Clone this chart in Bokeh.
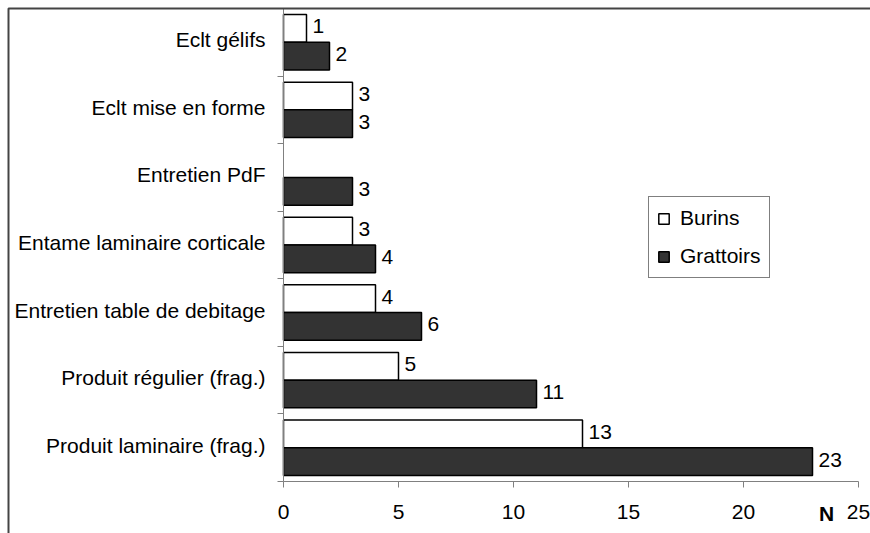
from bokeh.plotting import figure
from bokeh.models import (ColumnDataSource, FixedTicker, Range1d, Legend, LegendItem,
                          Label, BoxAnnotation)
from bokeh.embed import file_html
from bokeh.resources import INLINE
from bokeh.core.properties import value

categories = ["Eclt gélifs", "Eclt mise en forme", "Entretien PdF",
              "Entame laminaire corticale", "Entretien table de debitage",
              "Produit régulier (frag.)", "Produit laminaire (frag.)"]
burins = [1, 3, None, 3, 4, 5, 13]
grattoirs = [2, 3, 3, 4, 6, 11, 23]
x_ticks = [0, 5, 10, 15, 20, 25]
x_max = 25
series_names = ["Burins", "Grattoirs"]
axis_title = "N"

FONT = "Liberation Sans"
FS = "21px"
W, H = 870, 533
n = len(categories)
centers = [i + 0.5 for i in range(n)]
bounds = list(range(n + 1))
bar_h = 0.41
off = 0.205

# layout: frame covers the whole canvas; axes are drawn at fixed positions inside
X0_PX, XEND_PX = 283, 858      # pixel position of x=0 and x=x_max
YTOP_PX, YBOT_PX = 8, 481      # pixel position of category top and bottom
px_x = (XEND_PX - X0_PX) / x_max
px_y = (YBOT_PX - YTOP_PX) / n
label_lift = 2.5 / px_y        # small upward nudge of category labels

p = figure(width=W, height=H, output_backend="svg", toolbar_location=None,
           x_range=Range1d(-X0_PX / px_x, (W - X0_PX) / px_x),
           y_range=Range1d(n + (H - YBOT_PX) / px_y, -YTOP_PX / px_y),
           min_border_left=0, min_border_right=0, min_border_top=0, min_border_bottom=0)
p.outline_line_color = None
p.xgrid.grid_line_color = None
p.ygrid.grid_line_color = None
p.background_fill_color = "white"
p.border_fill_color = "white"

# outer chart-area border (only top and left edges are visible)
p.add_layout(BoxAnnotation(left=8, right=2000, top=8, bottom=2000,
                           left_units="canvas", right_units="canvas",
                           top_units="canvas", bottom_units="canvas",
                           fill_alpha=0, line_color="#444444", line_alpha=1,
                           line_width=2))


def make_src(vals, shift):
    xs, ys, ts = [], [], []
    for c, v in zip(centers, vals):
        if v is None:
            continue
        xs.append(v)
        ys.append(c + shift)
        ts.append(str(v))
    return ColumnDataSource(dict(x=xs, y=ys, t=ts))


src_b = make_src(burins, -off)
src_g = make_src(grattoirs, off)

rb = p.hbar(y="y", left=0, right="x", height=bar_h, source=src_b,
            fill_color="white", line_color="black", line_width=1.5)
rg = p.hbar(y="y", left=0, right="x", height=bar_h, source=src_g,
            fill_color="#333333", line_color="black", line_width=1.5)

for s in (src_b, src_g):
    p.text(x="x", y="y", text="t", source=s, x_offset=6, y_offset=-2,
           text_align="left", text_baseline="middle",
           text_font=value(FONT), text_font_size=FS, text_color="black")

# x axis
xa = p.xaxis[0]
xa.fixed_location = n
xa.bounds = (0, x_max)
xa.ticker = FixedTicker(ticks=x_ticks)
xa.axis_line_color = "#808080"
xa.major_tick_line_color = "#808080"
xa.major_tick_in = 0
xa.major_tick_out = 6
xa.minor_tick_line_color = None
xa.major_label_standoff = 17
xa.major_label_text_font = FONT
xa.major_label_text_font_size = FS
xa.major_label_text_color = "black"

# y axis: labels at category centres, small ticks at category boundaries
label_pos = [c - label_lift for c in centers]
ya = p.yaxis[0]
ya.fixed_location = 0
ya.bounds = (0, n)
ya.ticker = FixedTicker(ticks=label_pos, minor_ticks=bounds)
ya.major_label_overrides = {c: cat for c, cat in zip(label_pos, categories)}
ya.axis_line_color = "#808080"
ya.major_tick_line_color = None
ya.major_tick_in = 0
ya.major_tick_out = 0
ya.minor_tick_line_color = "#808080"
ya.minor_tick_in = 0
ya.minor_tick_out = 6
ya.major_label_standoff = 12
ya.major_label_text_font = FONT
ya.major_label_text_font_size = FS
ya.major_label_text_color = "black"

p.add_layout(Label(x=x_max, y=n, x_offset=-32, y_offset=-32, text=axis_title,
                   text_font=FONT, text_font_size=FS, text_font_style="bold",
                   text_align="center", text_baseline="middle", text_color="black"))

legend = Legend(items=[LegendItem(label=series_names[0], renderers=[rb]),
                       LegendItem(label=series_names[1], renderers=[rg])],
                location=(648, 255), orientation="vertical",
                border_line_color="black", border_line_width=1,
                padding=8, spacing=12, margin=0,
                glyph_width=13, glyph_height=13, label_standoff=10, label_height=26,
                label_text_font=FONT, label_text_font_size=FS, label_text_color="black",
                background_fill_color="white", background_fill_alpha=1)
p.add_layout(legend)

open("out.html", "w").write(file_html(p, INLINE))
